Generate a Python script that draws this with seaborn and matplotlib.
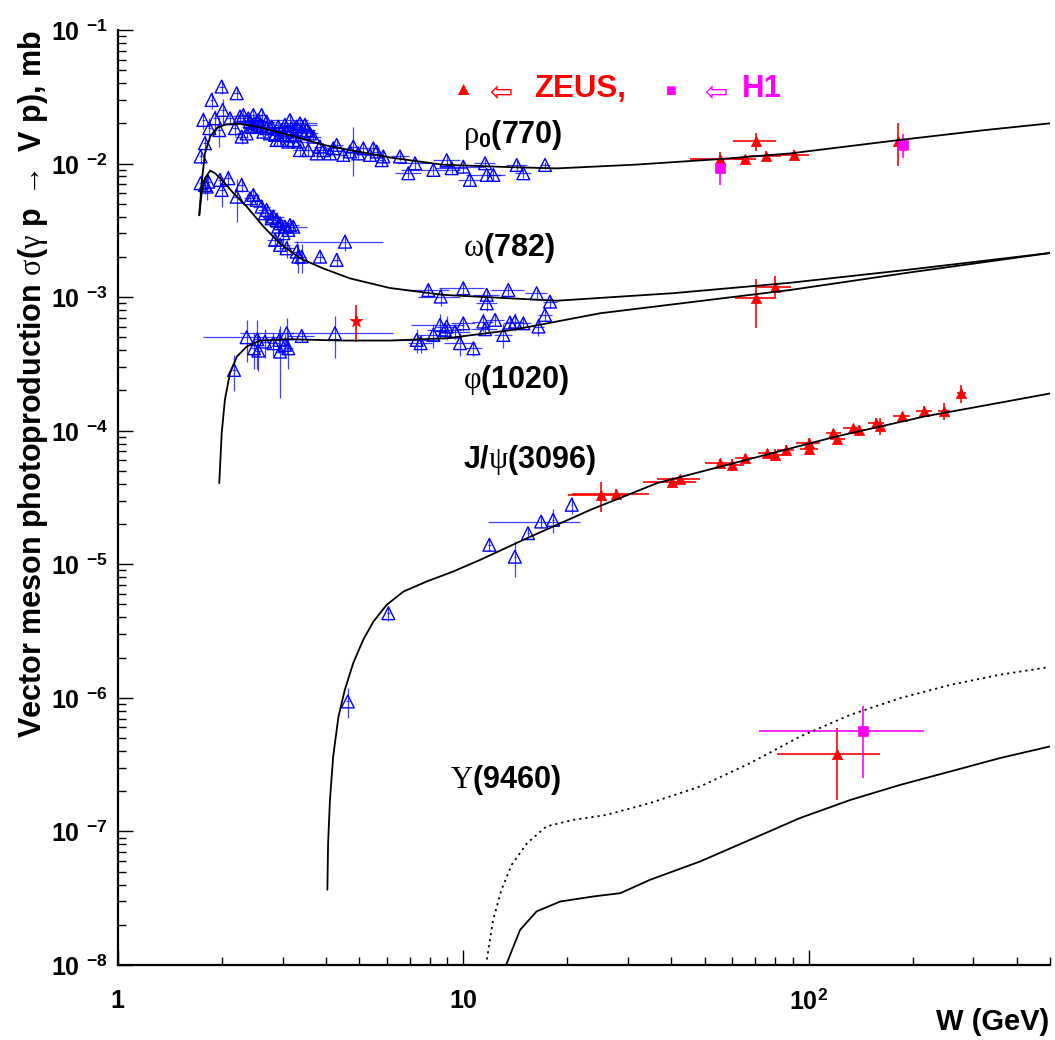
import matplotlib

matplotlib.use("Agg")
import matplotlib.pyplot as plt
import numpy as np
import seaborn as sns
from matplotlib.ticker import FixedFormatter, FixedLocator, LogLocator, NullFormatter

# ---- model curves ----
rho_curve_w = [1.72, 1.747, 1.786, 1.85, 1.93, 2.06, 2.26, 2.52, 2.88, 3.37, 3.93, 4.70, 6.13, 8.7, 13.6, 18.7,
               31.3, 55.4, 88.3, 183, 324, 500]
rho_curve_s = [4.1e-3, 7.12e-3, 1.19e-2, 1.59e-2, 1.84e-2, 1.97e-2, 1.98e-2, 1.89e-2, 1.73e-2, 1.55e-2, 1.38e-2,
               1.26e-2, 1.11e-2, 9.8e-3, 9.4e-3, 9.2e-3, 9.8e-3, 1.08e-2, 1.19e-2, 1.5e-2, 1.78e-2, 2.0e-2]

omega_curve_w = [1.72, 1.747, 1.786, 1.85, 1.91, 2.02, 2.16, 2.36, 2.64, 2.94, 3.37, 3.93, 4.70, 6.13, 8.73, 13.6,
                 18.7, 40.5, 88.3, 193, 500]
omega_curve_s = [4.1e-3, 6.0e-3, 7.76e-3, 8.85e-3, 8.46e-3, 7.32e-3, 6.0e-3, 4.76e-3, 3.37e-3, 2.53e-3, 1.95e-3,
                 1.64e-3, 1.38e-3, 1.17e-3, 1.04e-3, 9.8e-4, 9.4e-4, 1.07e-3, 1.28e-3, 1.60e-3, 2.14e-3]

phi_curve_w = [1.965, 1.997, 2.04, 2.11, 2.21, 2.36, 2.58, 3.15, 4.39, 6.13, 8.95, 13.9, 24.9, 88.3, 193, 500]
phi_curve_s = [4.05e-5, 9.57e-5, 1.70e-4, 2.69e-4, 3.59e-4, 4.27e-4, 4.73e-4, 4.84e-4, 4.73e-4, 4.73e-4, 4.92e-4,
               5.68e-4, 7.57e-4, 1.13e-3, 1.52e-3, 2.14e-3]

jpsi_curve_w = [4.04, 4.06, 4.11, 4.20, 4.35, 4.54, 4.80, 5.13, 5.49, 6.0, 6.71, 7.83, 9.35, 11.2, 14.9, 23.3, 36.4,
                65.9, 120, 217, 358, 500]
jpsi_curve_s = [3.66e-8, 8.17e-8, 1.72e-7, 3.64e-7, 7.24e-7, 1.15e-6, 1.82e-6, 2.72e-6, 3.72e-6, 4.97e-6, 6.25e-6,
                7.43e-6, 8.83e-6, 1.08e-5, 1.52e-5, 2.55e-5, 4.05e-5, 6.04e-5, 9.04e-5, 1.28e-4, 1.62e-4, 1.9e-4]

ups_curve_w = [13.3, 14.6, 16.3, 19.1, 23.8, 28.5, 34.7, 48.5, 67.6, 94.4, 132, 184, 257, 358, 500]
ups_curve_s = [1.0e-8, 1.83e-8, 2.52e-8, 2.99e-8, 3.26e-8, 3.45e-8, 4.34e-8, 5.96e-8, 8.65e-8, 1.26e-7, 1.72e-7,
               2.23e-7, 2.81e-7, 3.54e-7, 4.33e-7]

ups_dot_w = [11.7, 12.2, 12.9, 13.8, 15.3, 17.4, 20.8, 26.0, 34.7, 48.5, 67.6, 94.4, 132, 184, 257, 358, 490]
ups_dot_s = [1.1e-8, 2.18e-8, 3.66e-8, 5.62e-8, 8.17e-8, 1.09e-7, 1.22e-7, 1.33e-7, 1.63e-7, 2.17e-7, 3.24e-7,
             5.13e-7, 7.46e-7, 9.95e-7, 1.25e-6, 1.49e-6, 1.69e-6]

# ---- low energy data (open blue triangles) ----
rho_w = [1.735, 1.767, 1.786, 1.839, 1.867, 1.910, 1.966, 1.996, 2.010, 2.111, 2.183, 2.207, 2.256, 2.281, 2.358,
         2.412, 2.466, 2.521, 2.550, 2.636, 2.755, 2.880, 2.912, 3.011, 3.079, 3.148, 3.219, 3.291, 3.366, 3.366,
         3.519, 3.558, 3.679, 3.762, 3.846, 4.111, 4.298, 4.494, 4.803, 5.134, 5.368, 5.611, 5.802, 6.557, 6.932,
         7.247, 8.190, 8.951, 9.254, 10.0, 10.45, 11.56, 11.69, 12.22, 14.28, 14.92, 17.24,
         2.307, 2.385, 2.438, 2.493, 2.577, 2.695, 2.786, 2.849, 2.979, 3.045, 3.184, 3.255, 3.404, 3.479, 3.598,
         2.695, 2.606, 2.946, 3.113, 3.329, 3.932, 4.203, 4.698, 4.966, 5.489, 5.867]
rho_s = [1.13e-2, 2.12e-2, 1.42e-2, 1.84e-2, 2.99e-2, 2.18e-2, 1.78e-2, 3.77e-2, 2.52e-2, 2.18e-2, 1.84e-2, 3.36e-2,
         2.25e-2, 1.59e-2, 1.68e-2, 2.06e-2, 2.31e-2, 1.89e-2, 2.12e-2, 1.73e-2, 1.68e-2, 1.50e-2, 1.89e-2, 1.64e-2,
         1.73e-2, 2.12e-2, 1.50e-2, 1.89e-2, 2.00e-2, 1.26e-2, 1.78e-2, 1.26e-2, 1.59e-2, 1.19e-2, 1.34e-2, 1.19e-2,
         1.38e-2, 1.16e-2, 1.34e-2, 1.30e-2, 1.16e-2, 1.23e-2, 1.06e-2, 1.13e-2, 8.46e-3, 1.005e-2, 8.96e-3, 1.06e-2,
         9.22e-3, 9.48e-3, 7.54e-3, 1.005e-2, 8.22e-3, 8.22e-3, 9.76e-3, 8.46e-3, 9.76e-3,
         2.31e-2, 2.18e-2, 1.89e-2, 2.00e-2, 1.95e-2, 1.84e-2, 1.89e-2, 1.64e-2, 1.78e-2, 1.95e-2, 1.84e-2, 1.64e-2,
         1.73e-2, 1.95e-2, 1.68e-2, 2.06e-2, 2.31e-2, 1.50e-2, 1.46e-2, 1.46e-2, 1.26e-2, 1.30e-2, 1.23e-2, 1.19e-2,
         1.30e-2, 1.13e-2]
rho_dw = [0.02, 0.02, 0.02, 0.02, 0.02, 0.03, 0.03, 0.03, 0.03, 0.05, 0.05, 0.05, 0.1, 0.1, 0.15, 0.1, 0.15, 0.2,
          0.1, 0.2, 0.3, 0.15, 0.3, 0.2, 0.3, 0.4, 0.2, 0.2, 0.4, 0.15, 0.2, 0.15, 0.2, 0.1, 0.15, 0.15, 0.2, 0.15,
          0.1, 0.15, 0.2, 0.15, 0.1, 0.4, 0.6, 0.8, 1.6, 0.8, 1.0, 1.5, 0.8, 0.8, 1.5, 0.6, 1.0, 0.8, 0.6,
          0.1, 0.2, 0.15, 0.3, 0.2, 0.4, 0.2, 0.1, 0.3, 0.2, 0.3, 0.15, 0.2, 0.3, 0.2,
          0.15, 0.1, 0.2, 0.15, 0.2, 0.2, 0.2, 0.2, 0.15, 0.2, 0.2]
rho_ds = [0.12, 0.15, 0.15, 0.2, 0.15, 0.15, 0.25, 0.12, 0.2, 0.1, 0.12, 0.1, 0.08, 0.12, 0.08, 0.08, 0.08, 0.08,
          0.08, 0.08, 0.08, 0.1, 0.08, 0.1, 0.08, 0.08, 0.1, 0.08, 0.08, 0.1, 0.1, 0.1, 0.1, 0.1, 0.1, 0.1, 0.1,
          0.1, 0.4, 0.1, 0.1, 0.1, 0.1, 0.08, 0.08, 0.1, 0.08, 0.1, 0.1, 0.1, 0.1, 0.08, 0.08, 0.1, 0.08, 0.08, 0.06,
          0.08, 0.08, 0.1, 0.08, 0.08, 0.1, 0.08, 0.1, 0.08, 0.08, 0.1, 0.08, 0.1, 0.08, 0.1,
          0.08, 0.1, 0.1, 0.1, 0.1, 0.1, 0.1, 0.1, 0.1, 0.1, 0.1]

omega_w = [1.735, 1.786, 1.826, 1.806, 1.974, 1.996, 2.087, 2.281, 2.207, 2.466, 2.521, 2.606, 2.665, 2.818, 2.880,
           2.946, 2.912, 3.045, 3.219, 3.011, 3.113, 2.850, 2.946, 3.079, 3.291, 3.329, 3.404, 3.846, 4.298, 4.544,
           7.92, 8.60, 10.0, 11.69, 11.69, 13.5, 16.31, 17.83, 2.412, 2.695, 2.786, 3.148]
omega_s = [7.12e-3, 6.91e-3, 7.32e-3, 6.72e-3, 7.54e-3, 6.34e-3, 7.76e-3, 6.91e-3, 5.65e-3, 5.82e-3, 5.34e-3,
           4.76e-3, 4.24e-3, 4.01e-3, 3.78e-3, 3.57e-3, 3.37e-3, 3.37e-3, 3.37e-3, 3.01e-3, 3.18e-3, 2.68e-3,
           2.46e-3, 2.32e-3, 2.19e-3, 2.01e-3, 2.01e-3, 2.01e-3, 1.90e-3, 2.60e-3, 1.13e-3, 1.01e-3, 1.165e-3,
           1.04e-3, 9.0e-4, 1.13e-3, 1.07e-3, 9.26e-4, 5.5e-3, 4.5e-3, 3.89e-3, 3.47e-3]
omega_dw = [0.02, 0.02, 0.03, 0.02, 0.03, 0.03, 0.05, 0.05, 0.05, 0.1, 0.1, 0.15, 0.1, 0.2, 0.15, 0.2, 0.15, 0.2,
            0.3, 0.1, 0.2, 0.15, 0.2, 0.15, 0.15, 0.1, 0.1, 0.1, 0.1, 1.3, 1.2, 1.2, 1.5, 1.0, 0.8, 1.5, 1.2, 0.8,
            0.1, 0.15, 0.15, 0.2]
omega_ds = [0.15, 0.15, 0.12, 0.2, 0.12, 0.25, 0.15, 0.12, 0.35, 0.1, 0.1, 0.12, 0.15, 0.12, 0.15, 0.12, 0.15,
            0.12, 0.12, 0.15, 0.12, 0.15, 0.15, 0.15, 0.2, 0.25, 0.25, 0.1, 0.12, 0.15, 0.12, 0.15, 0.1, 0.1, 0.12,
            0.08, 0.08, 0.1, 0.1, 0.1, 0.1, 0.1]

phi_w = [2.168, 2.358, 2.532, 2.477, 2.550, 2.665, 2.818, 2.933, 2.946, 3.079, 3.113, 3.045, 3.404, 4.25, 7.33,
         7.52, 8.19, 8.56, 8.85, 8.95, 9.46, 10.0, 9.78, 10.7, 11.43, 11.56, 12.36, 13.06, 13.65, 14.12, 14.92,
         16.5, 17.24]
phi_s = [2.85e-4, 5.01e-4, 4.84e-4, 4.14e-4, 3.98e-4, 4.65e-4, 4.52e-4, 4.78e-4, 3.91e-4, 5.36e-4, 4.14e-4,
         4.39e-4, 5.12e-4, 5.36e-4, 4.78e-4, 4.52e-4, 5.21e-4, 6.19e-4, 5.68e-4, 6.02e-4, 5.52e-4, 6.37e-4,
         4.52e-4, 4.14e-4, 6.56e-4, 5.75e-4, 6.75e-4, 5.21e-4, 6.45e-4, 6.56e-4, 6.37e-4, 6.02e-4, 7.36e-4]
phi_dw = [0.03, 0.6, 0.05, 0.05, 0.05, 0.1, 0.1, 0.15, 0.1, 0.15, 0.1, 0.1, 0.3, 2.0, 1.1, 0.6, 0.8, 1.5, 1.0,
          0.6, 1.0, 0.8, 1.0, 0.6, 0.8, 1.0, 0.8, 0.8, 0.6, 0.8, 0.8, 0.6, 0.8]
phi_ds = [0.3, 0.35, 0.4, 0.3, 0.3, 0.25, 0.2, 0.2, 0.55, 0.3, 0.3, 0.2, 0.1, 0.35, 0.2, 0.15, 0.2, 0.2, 0.15,
          0.2, 0.12, 0.12, 0.2, 0.12, 0.15, 0.1, 0.1, 0.2, 0.12, 0.15, 0.1, 0.15, 0.1]

jpsi_w = [4.63, 6.07, 11.9, 14.1, 15.4, 16.8, 18.2, 20.6]
jpsi_s = [9.4e-7, 4.3e-6, 1.4e-5, 1.14e-5, 1.71e-5, 2.09e-5, 2.15e-5, 2.79e-5]
jpsi_dw = [0.05, 0.05, 0.1, 0.1, 0.1, 5.0, 0.1, 0.1]
jpsi_ds = [0.25, 0.12, 0.1, 0.3, 0.1, 0.1, 0.2, 0.15]

# ---- ZEUS (red) and H1 (magenta) ----
zeus_rho_w = [55.2, 65.3, 70.4, 75.3, 90.4, 182]
zeus_rho_s = [1.08e-2, 1.08e-2, 1.47e-2, 1.14e-2, 1.16e-2, 1.48e-2]
zeus_rho_dw = [10, 5, 10, 8, 10, 3]
zeus_rho_ds = [0.12, 0.08, 0.15, 0.08, 0.08, 0.35]

zeus_omega_w = [70.4, 80.1]
zeus_omega_s = [9.8e-4, 1.2e-3]
zeus_omega_dw = [9, 9]
zeus_omega_ds = [0.4, 0.2]

zeus_jpsi_w = [25.1, 27.6, 40.2, 42.5, 55.2, 60, 65.4, 75.5, 80.1, 85.8, 100, 100.4, 118, 121, 134, 140, 157, 161,
               186, 216, 247, 277]
zeus_jpsi_s = [3.31e-5, 3.37e-5, 4.11e-5, 4.33e-5, 5.71e-5, 5.54e-5, 6.22e-5, 6.85e-5, 6.59e-5, 7.18e-5, 8.14e-5,
               7.26e-5, 9.57e-5, 8.63e-5, 1.04e-4, 1.01e-4, 1.15e-4, 1.09e-4, 1.29e-4, 1.41e-4, 1.41e-4, 1.9e-4]
zeus_jpsi_dw = [5, 7, 7, 6, 5, 5, 4, 4, 5, 5, 8, 6, 6, 6, 8, 6, 8, 6, 10, 12, 10, 8]
zeus_jpsi_ds = [0.25, 0.08, 0.08, 0.08, 0.08, 0.1, 0.08, 0.06, 0.1, 0.08, 0.08, 0.1, 0.08, 0.1, 0.06, 0.1, 0.08,
                0.15, 0.06, 0.08, 0.15, 0.15]

zeus_ups_w = [121]
zeus_ups_s = [3.81e-7]
zeus_ups_dw = [40]
zeus_ups_ds = [0.55]

h1_rho_w = [55.2, 188]
h1_rho_s = [9.2e-3, 1.38e-2]
h1_rho_dw = [0.5, 1.0]
h1_rho_ds = [0.25, 0.2]

h1_ups_w = [144]
h1_ups_s = [5.6e-7]
h1_ups_dw = [72]
h1_ups_ds = [0.55]

star_w = [4.89]
star_s = [6.64e-4]
star_ds = [0.31]

x_ticks = [1, 10, 100]
x_tick_labels = [r"$\mathbf{1}$", r"$\mathbf{10}$", r"$\mathbf{10}^{\mathbf{2}}$"]
y_ticks = [1e-8, 1e-7, 1e-6, 1e-5, 1e-4, 1e-3, 1e-2, 1e-1]
y_tick_labels = [r"$\mathbf{10}^{\;\;\mathbf{-%d}}$" % k for k in [8, 7, 6, 5, 4, 3, 2, 1]]

BLUE = (0.0, 0.0, 1.0)
RED = (1.0, 0.0, 0.0)
MAGENTA = (1.0, 0.0, 1.0)

sns.set_theme(style="ticks")
plt.rcParams["font.family"] = ["Liberation Sans", "DejaVu Sans"]
plt.rcParams["mathtext.fontset"] = "custom"
plt.rcParams["mathtext.rm"] = "Liberation Serif"
plt.rcParams["mathtext.it"] = "Liberation Serif"
plt.rcParams["mathtext.bf"] = "Liberation Sans:bold"
for key in ["text.color", "axes.labelcolor", "xtick.color", "ytick.color", "axes.edgecolor"]:
    plt.rcParams[key] = "black"


def draw_points(ax, w, s, dw, ds, color, marker, size, hollow=False, lw=0.9, alpha=1.0):
    w = np.asarray(w, dtype=float)
    s = np.asarray(s, dtype=float)
    ax.errorbar(w, s, xerr=np.asarray(dw, dtype=float), yerr=np.asarray(ds, dtype=float) * s,
                fmt="none", ecolor=color, elinewidth=lw, capsize=0, alpha=alpha, zorder=2)
    if hollow:
        sns.scatterplot(x=w, y=s, marker=marker, s=size, facecolor="none", edgecolor=color,
                        linewidth=1.0, ax=ax, zorder=3, legend=False)
    else:
        sns.scatterplot(x=w, y=s, marker=marker, s=size, color=color, edgecolor=color,
                        linewidth=0.5, ax=ax, zorder=3, legend=False)


def draw_curve(ax, w, s, style="-"):
    sns.lineplot(x=w, y=s, color="black", linewidth=1.3, linestyle=style, estimator=None,
                 sort=False, ax=ax, zorder=4)


fig = plt.figure(figsize=(10.55, 10.4), dpi=100)
ax = fig.add_axes([0.1118, 0.0721, 0.8835, 0.8991])
ax.set_xscale("log")
ax.set_yscale("log")

draw_curve(ax, rho_curve_w, rho_curve_s)
draw_curve(ax, omega_curve_w, omega_curve_s)
draw_curve(ax, phi_curve_w, phi_curve_s)
draw_curve(ax, jpsi_curve_w, jpsi_curve_s)
draw_curve(ax, ups_curve_w, ups_curve_s)
draw_curve(ax, ups_dot_w, ups_dot_s, style=(0, (1.2, 2.2)))

for w, s, dw, ds in [(rho_w, rho_s, rho_dw, rho_ds), (omega_w, omega_s, omega_dw, omega_ds),
                     (phi_w, phi_s, phi_dw, phi_ds), (jpsi_w, jpsi_s, jpsi_dw, jpsi_ds)]:
    draw_points(ax, w, s, dw, ds, BLUE, "^", 85, hollow=True, alpha=0.75)

for w, s, dw, ds in [(zeus_rho_w, zeus_rho_s, zeus_rho_dw, zeus_rho_ds),
                     (zeus_omega_w, zeus_omega_s, zeus_omega_dw, zeus_omega_ds),
                     (zeus_jpsi_w, zeus_jpsi_s, zeus_jpsi_dw, zeus_jpsi_ds),
                     (zeus_ups_w, zeus_ups_s, zeus_ups_dw, zeus_ups_ds)]:
    draw_points(ax, w, s, dw, ds, RED, "^", 55, lw=1.2)

for w, s, dw, ds in [(h1_rho_w, h1_rho_s, h1_rho_dw, h1_rho_ds), (h1_ups_w, h1_ups_s, h1_ups_dw, h1_ups_ds)]:
    draw_points(ax, w, s, dw, ds, MAGENTA, "s", 50, lw=1.2)

draw_points(ax, star_w, star_s, [0.0], star_ds, RED, "*", 90, lw=1.2)

ax.set_xlim(1, 500)
ax.set_ylim(1e-8, 1e-1)
sns.despine(ax=ax)
ax.grid(False)
for side in ["left", "bottom"]:
    ax.spines[side].set_linewidth(1.6)
    ax.spines[side].set_color("black")

ax.xaxis.set_major_locator(FixedLocator(x_ticks))
ax.xaxis.set_major_formatter(FixedFormatter(x_tick_labels))
ax.xaxis.set_minor_locator(LogLocator(base=10, subs=range(2, 10), numticks=20))
ax.xaxis.set_minor_formatter(NullFormatter())
ax.yaxis.set_major_locator(FixedLocator(y_ticks))
ax.yaxis.set_major_formatter(FixedFormatter(y_tick_labels))
ax.yaxis.set_minor_locator(LogLocator(base=10, subs=range(2, 10), numticks=20))
ax.yaxis.set_minor_formatter(NullFormatter())
ax.tick_params(which="major", direction="in", length=11, width=1, labelsize=18, colors="black")
ax.tick_params(which="minor", direction="in", length=6, width=1, colors="black")
ax.tick_params(axis="x", which="major", pad=17)
ax.tick_params(axis="y", which="major", pad=7)
ax.set_xlabel("")
ax.set_ylabel("")

fig.text(0.031, 0.971, r"Vector meson photoproduction $\sigma$($\gamma$ p $\rightarrow$ V p), mb",
         rotation=90, ha="center", va="top", fontsize=22, fontweight="bold")
fig.text(0.995, 0.0173, "W (GeV)", ha="right", va="center", fontsize=21, fontweight="bold")

label_kw = dict(transform=ax.transAxes, ha="left", va="center", fontsize=22, fontweight="bold")
ax.text(0.370, 0.888, r"$\rho_{\mathbf{0}}$(770)", **label_kw)
ax.text(0.370, 0.767, r"$\omega$(782)", **label_kw)
ax.text(0.370, 0.626, r"$\varphi$(1020)", **label_kw)
ax.text(0.370, 0.540, r"J/$\psi$(3096)", **label_kw)
ax.text(0.356, 0.198, r"$\Upsilon$(9460)", **label_kw)

# legend row
ax.text(0.370, 0.935, "▲", transform=ax.transAxes, ha="center", va="center", fontsize=14, color=RED)
ax.text(0.411, 0.932, "⇦", transform=ax.transAxes, ha="center", va="center", fontsize=20, color=RED)
ax.text(0.447, 0.937, "ZEUS,", transform=ax.transAxes, ha="left", va="center", fontsize=22.5,
        fontweight="bold", color=RED)
ax.text(0.594, 0.934, "■", transform=ax.transAxes, ha="center", va="center", fontsize=13, color=MAGENTA)
ax.text(0.641, 0.932, "⇦", transform=ax.transAxes, ha="center", va="center", fontsize=20, color=MAGENTA)
ax.text(0.669, 0.937, "H1", transform=ax.transAxes, ha="left", va="center", fontsize=22.5,
        fontweight="bold", color=MAGENTA)

fig.savefig("out.png", dpi=100)
